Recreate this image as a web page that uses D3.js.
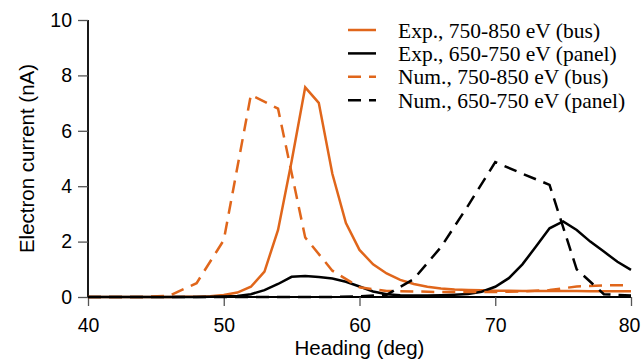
<!DOCTYPE html>
<html>
<head>
<meta charset="utf-8">
<script src="https://cdn.jsdelivr.net/npm/d3@7"></script>
<style>
  html, body { margin: 0; padding: 0; background: #fff; }
  svg { display: block; }
</style>
</head>
<body>
<svg id="chart" width="641" height="360"></svg>
<script>
// ---- data ----
const expHeading = [40,41,42,43,44,45,46,47,48,49,50,51,52,53,54,55,56,57,58,59,60,61,62,63,64,65,66,67,68,69,70,71,72,73,74,75,76,77,78,79,80];
const expBus =     [0,0,0,0,0,0,0,0.01,0.01,0.03,0.07,0.16,0.37,0.92,2.42,4.9,7.57,7.01,4.45,2.67,1.70,1.18,0.85,0.62,0.47,0.37,0.31,0.27,0.25,0.24,0.23,0.23,0.22,0.22,0.22,0.22,0.22,0.21,0.21,0.21,0.21];
const expPanel =   [0,0,0,0,0,0,0,0,0,0.01,0.02,0.04,0.1,0.25,0.47,0.73,0.76,0.72,0.67,0.55,0.38,0.2,0.1,0.06,0.05,0.05,0.06,0.08,0.11,0.19,0.37,0.68,1.18,1.82,2.48,2.73,2.42,2.0,1.64,1.27,0.98];
const numHeading = [40,42,44,46,48,50,52,54,56,58,60,62,64,66,68,70,72,74,76,78,80];
const numBus =     [0,0,0,0.05,0.5,2.05,7.3,6.8,2.15,0.95,0.35,0.22,0.2,0.18,0.18,0.18,0.2,0.25,0.38,0.42,0.42];
const numPanel =   [0,0,0,0,0,0,0,0,0,0,0.02,0.08,0.65,1.8,3.3,4.87,4.45,4.05,1.0,0.1,0.05];
const xTicks = [40,50,60,70,80];
const yTicks = [0,2,4,6,8,10];
const seriesNames = ["Exp., 750-850 eV (bus)","Exp., 650-750 eV (panel)","Num., 750-850 eV (bus)","Num., 650-750 eV (panel)"];
const xTitle = "Heading (deg)";
const yTitle = "Electron current (nA)";

// ---- layout ----
const W = 641, H = 360;
const m = {left: 88, right: 10, top: 20, bottom: 63};
const ORANGE = "#e0661b";
const svg = d3.select("#chart");

const x = d3.scaleLinear().domain([40,80]).range([m.left, W - m.right]);
const y = d3.scaleLinear().domain([0,10]).range([H - m.bottom, m.top]);

const series = [
  {name: seriesNames[0], xs: expHeading, ys: expBus,   color: ORANGE, dash: null},
  {name: seriesNames[1], xs: expHeading, ys: expPanel, color: "#000", dash: null},
  {name: seriesNames[2], xs: numHeading, ys: numBus,   color: ORANGE, dash: "13,8"},
  {name: seriesNames[3], xs: numHeading, ys: numPanel, color: "#000", dash: "13,8"}
];

const line = d3.line().x(d => x(d[0])).y(d => y(d[1]));

// axes
const font = "'Liberation Sans', Arial, Helvetica, sans-serif";
const xAxis = svg.append("g").attr("transform", `translate(0,${H - m.bottom})`)
  .call(d3.axisBottom(x).tickValues(xTicks).tickSize(9).tickPadding(12).tickFormat(d3.format("d")));
const yAxis = svg.append("g").attr("transform", `translate(${m.left},0)`)
  .call(d3.axisLeft(y).tickValues(yTicks).tickSize(10).tickPadding(6).tickFormat(d3.format("d")));
[xAxis, yAxis].forEach(g => {
  g.select(".domain").attr("stroke", "#000").attr("stroke-width", 1.8);
  g.selectAll(".tick line").attr("stroke", "#555").attr("stroke-width", 1.3);
  g.selectAll(".tick text").attr("fill", "#000").style("font-family", font).style("font-size", "19.5px");
});
// keep the last x label inside the frame
xAxis.selectAll(".tick text").filter(d => d === 80).attr("dx", "-2");
xAxis.select(".domain").attr("d", `M${x(40)},0H${x(80)}`);
yAxis.select(".domain").attr("d", `M0,${y(10)}V${y(0)}`);

// lines
svg.append("g").selectAll("path.series").data(series).join("path")
  .attr("class", "series")
  .attr("fill", "none")
  .attr("stroke", d => d.color)
  .attr("stroke-width", 2.5)
  .attr("stroke-linejoin", "miter")
  .attr("stroke-dasharray", d => d.dash)
  .attr("d", d => line(d.xs.map((v, i) => [v, d.ys[i]])));

// axis titles
svg.append("text").attr("x", (m.left + W - m.right) / 2).attr("y", 355)
  .attr("text-anchor", "middle").style("font-family", font).style("font-size", "20.5px")
  .text(xTitle);
svg.append("text")
  .attr("transform", `translate(34,${(m.top + H - m.bottom) / 2}) rotate(-90)`)
  .attr("text-anchor", "middle").style("font-family", font).style("font-size", "20.5px")
  .text(yTitle);

// legend
const lg = svg.append("g");
const rows = lg.selectAll("g").data(series).join("g")
  .attr("transform", (d, i) => `translate(348,${30 + i * 23.4})`);
rows.append("line").attr("x1", 0).attr("x2", 28).attr("y1", 0).attr("y2", 0)
  .attr("stroke", d => d.color).attr("stroke-width", 2.5).attr("stroke-dasharray", d => d.dash);
rows.append("text").attr("x", 50).attr("y", 0).attr("dy", "0.35em")
  .style("font-family", "'Liberation Serif', 'Times New Roman', serif").style("font-size", "21.5px")
  .text(d => d.name);
</script>
</body>
</html>
